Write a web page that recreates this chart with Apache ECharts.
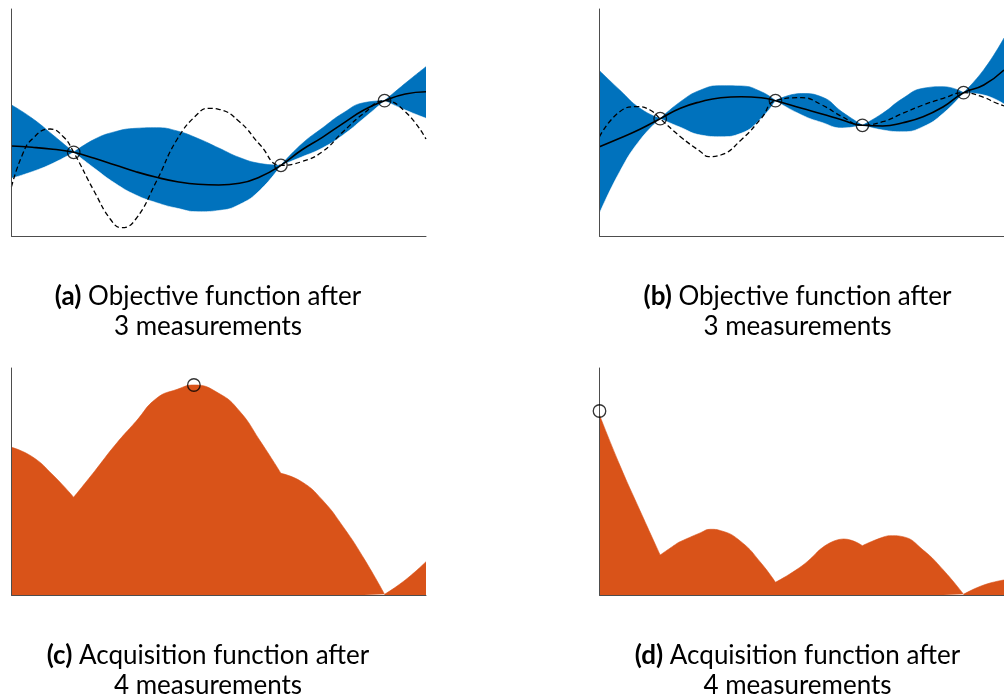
<!DOCTYPE html>
<html><head><meta charset="utf-8">
<script src="https://cdn.jsdelivr.net/npm/echarts@6/dist/echarts.min.js"></script>
<style>html,body{margin:0;padding:0;background:#fff}#c{width:1004px;height:699px}</style>
</head><body><div id="c"></div>
<script>
// ---------- Panel (a): GP after 3 measurements ----------
const xObjA   = [0,0.05,0.1,0.15,0.2,0.25,0.3,0.35,0.4,0.45,0.5,0.55,0.6,0.65,0.7,0.75,0.8,0.85,0.9,0.95,1];
const meanA   = [90,88.7,86.7,83.7,77.7,71,64.3,58.7,54.3,51.7,51,52.7,59.3,70.7,86,98.7,112.7,126,135.3,142,144.3];
const upperA  = [131,117.7,101,83.7,96.7,104.3,107.7,108.3,105,97.5,88,78.5,72.5,70.7,92,108,123,133.3,135.3,152.7,169.3];
const lowerA  = [57.7,64.3,72.7,83.7,67.7,52.7,41,33.3,27.7,24.3,25.5,31.5,46,70.7,79,88,101,117.7,135.3,126,117.7];
const xTrueA  = [0,0.025,0.05,0.093,0.125,0.15,0.2,0.24,0.266,0.3,0.35,0.4,0.45,0.475,0.5,0.55,0.6,0.65,0.7,0.75,0.8,0.85,0.9,0.95,1];
const trueA   = [49.3,80,97,107,99.3,83.7,44.3,16,8.3,17,55,97,122.5,127.7,126.7,114.3,91,70.7,74.3,84.3,104.3,122.7,135.3,124.3,97];
const measXA  = [0.15,0.65,0.9];
const measYA  = [83.7,70.7,135.3];

// ---------- Panel (b): GP after 4 measurements ----------
const xObjB   = [0,0.05,0.1,0.15,0.2,0.25,0.3,0.35,0.4,0.435,0.5,0.55,0.6,0.65,0.7,0.75,0.8,0.85,0.9,0.95,1];
const meanB   = [89.3,97.7,106.7,117.3,127.7,134.3,138.3,139.3,138.3,135.3,127.7,122,116,110.7,110,113.3,119.3,129.3,143.3,151,166];
const upperB  = [165.3,146,127.7,117.3,134.3,146,150.3,150,144.3,135.3,142.5,139,124,110.7,122.7,137.7,147.7,149.3,143.3,166.3,198];
const lowerB  = [22.7,64.3,96,117.3,108.7,101,99.3,102.7,117.7,135.3,121,113.5,108,110.7,106,104.3,109.3,122.7,143.3,141,132];
const xTrueB  = [0,0.05,0.093,0.125,0.15,0.2,0.25,0.27,0.3,0.35,0.4,0.435,0.5,0.55,0.6,0.65,0.7,0.75,0.8,0.85,0.9,0.95,0.975,1];
const trueB   = [99.3,124.3,129.3,126,117.3,99.3,84.3,79.3,81,96,117.7,135.3,138.3,131,119.3,110.7,114.3,122.7,131,137.7,143.3,138.7,134,130];
const measXB  = [0.15,0.435,0.65,0.9];
const measYB  = [117.3,135.3,110.7,143.3];

// ---------- Panel (c): acquisition function ----------
const xAcqC   = [0,0.05,0.1,0.15,0.2,0.25,0.3,0.35,0.4,0.44,0.5,0.55,0.6,0.65,0.7,0.75,0.8,0.85,0.9,0.95,1];
const acqC    = [147.7,138.3,120,97.7,123.5,150,173.5,196.7,205.7,210,201.7,184,154,121.7,113.3,95,68.3,36.7,0.7,15,33.3];
const kinksC  = [0.15,0.65,0.9];
const nextXC  = [0.44];
const nextYC  = [210];

// ---------- Panel (d): acquisition function ----------
const xAcqD   = [0,0.05,0.1,0.15,0.194,0.25,0.274,0.3,0.35,0.4,0.435,0.5,0.539,0.604,0.65,0.7,0.724,0.75,0.8,0.85,0.9,0.95,1];
const acqD    = [180,130,84.5,40,52.3,62.3,65.7,64.3,53.3,31.7,12.7,29,43.3,56,49.3,57.7,59.3,58.3,45,25,0.7,10,15];
const kinksD  = [0.15,0.194,0.435,0.539,0.65,0.9];
const nextXD  = [0];
const nextYD  = [184];

// ---------- Captions ----------
const capLabels = ['(a)','(b)','(c)','(d)'];
const capLine1  = ['Objective function after','Objective function after','Acquisition function after','Acquisition function after'];
const capLine2  = ['3 measurements','3 measurements','4 measurements','4 measurements'];

// ---------- styling / layout ----------
const BLUE = '#0072BD', ORANGE = '#D95319', AX = '#4d4d4d';
const FONT = 'Lato';
const FS = 26;
const SMOOTH = 0.5;
const grids = [
  {left: 11.5,  top: 9,   width: 414.5, height: 227},
  {left: 599.5, top: 9,   width: 415,   height: 227},
  {left: 11.5,  top: 368, width: 414.5, height: 227},
  {left: 599.5, top: 368, width: 415,   height: 227}
];
const capCenterX = [208, 797.5, 208, 797.5];
const capY1 = [297, 297, 656, 656];
const capY2 = [327, 327, 686, 686];

function pairs(xs, ys) { return xs.map((x, i) => [x, ys[i]]); }
// break the path at kinks (null point) so each piece is smoothed on its own
function withBreaks(xs, ys, knots) {
  const out = [];
  xs.forEach((x, i) => {
    out.push([x, ys[i]]);
    if (knots.includes(x) && i > 0 && i < xs.length - 1) { out.push([x, '-']); out.push([x, ys[i]]); }
  });
  return out;
}
function area(gi, xs, ys, knots, color, z) {
  return {type: 'line', xAxisIndex: gi, yAxisIndex: gi, data: withBreaks(xs, ys, knots),
    smooth: SMOOTH, connectNulls: false, symbol: 'none', silent: true, z: z,
    lineStyle: {width: 0.6, color: color},
    areaStyle: {color: color, opacity: 1, origin: 'start'}};
}
function line(gi, xs, ys, dashed) {
  return {type: 'line', xAxisIndex: gi, yAxisIndex: gi, data: pairs(xs, ys), smooth: SMOOTH,
    symbol: 'none', silent: true, z: 4,
    lineStyle: {color: '#000', width: dashed ? 1.3 : 1.6, type: dashed ? [5, 3] : 'solid'}};
}
function circles(gi, xs, ys) {
  return {type: 'scatter', xAxisIndex: gi, yAxisIndex: gi, data: pairs(xs, ys), symbol: 'circle',
    symbolSize: 12.5, clip: false, silent: true, z: 6,
    itemStyle: {color: 'rgba(0,0,0,0)', borderColor: '#000', borderWidth: 1.3}};
}

// band = upper edge filled in blue, then area below lower edge painted back to white
const series = [
  area(0, xObjA, upperA, measXA, BLUE, 1), area(0, xObjA, lowerA, measXA, '#ffffff', 2),
  line(0, xObjA, meanA, false), line(0, xTrueA, trueA, true), circles(0, measXA, measYA),
  area(1, xObjB, upperB, measXB, BLUE, 1), area(1, xObjB, lowerB, measXB, '#ffffff', 2),
  line(1, xObjB, meanB, false), line(1, xTrueB, trueB, true), circles(1, measXB, measYB),
  area(2, xAcqC, acqC, kinksC, ORANGE, 1), circles(2, nextXC, nextYC),
  area(3, xAcqD, acqD, kinksD, ORANGE, 1), circles(3, nextXD, nextYD)
];

const graphic = [];
capLabels.forEach((lab, i) => {
  graphic.push({type: 'text', x: capCenterX[i], y: capY1[i], silent: true,
    style: {text: '{b|' + lab + '} ' + capLine1[i], align: 'center', verticalAlign: 'middle',
      fontSize: FS, fontFamily: FONT, fill: '#000',
      rich: {b: {fontSize: FS, fontFamily: FONT, fontWeight: 'bold', fill: '#000'}}}});
  graphic.push({type: 'text', x: capCenterX[i], y: capY2[i], silent: true,
    style: {text: capLine2[i], align: 'center', verticalAlign: 'middle',
      fontSize: FS, fontFamily: FONT, fill: '#000'}});
});

const axisCommon = {z: 5, axisLine: {show: true, onZero: false, lineStyle: {color: AX, width: 1}},
  axisTick: {show: false}, axisLabel: {show: false}, splitLine: {show: false}};
const option = {
  animation: false,
  backgroundColor: '#fff',
  grid: grids.map(g => Object.assign({containLabel: false}, g)),
  xAxis: grids.map((g, i) => Object.assign({gridIndex: i, type: 'value', min: 0, max: 1}, axisCommon)),
  yAxis: grids.map((g, i) => Object.assign({gridIndex: i, type: 'value', min: 0, max: 227}, axisCommon)),
  series: series,
  graphic: graphic
};
const chart = echarts.init(document.getElementById('c'), null, {renderer: 'canvas'});
chart.setOption(option);
</script></body></html>
